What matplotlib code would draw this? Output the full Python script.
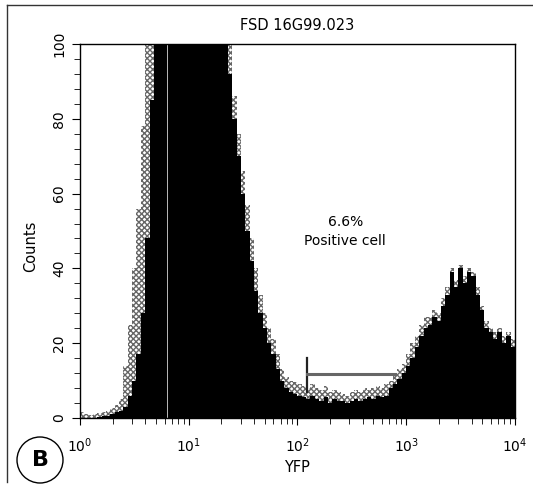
import numpy as np
import matplotlib
matplotlib.use('Agg')
import matplotlib.pyplot as plt
from matplotlib.patches import Circle
from matplotlib.lines import Line2D

# canais do citometro: 100 bins logaritmicos de 10^0 a 10^4
bin_edges = np.logspace(0, 4, 101)

# contagens (nucleo preto e halo pontilhado cinza)
black_counts = [
    0, 0, 0, 0, 0.3, 0.5, 0.6, 1.0, 1.5, 2.0,
    3, 6, 10, 17, 28, 48, 85, 140, 140, 140,
    150, 150, 150, 150, 150, 150, 150, 150, 150, 150,
    150, 150, 140, 105, 92, 80, 70, 60, 50, 42,
    34, 28, 24, 20, 17, 13, 10, 8, 7, 6.5,
    6, 5.5, 5, 6, 5, 4.5, 5.5, 4, 5, 4.5,
    4.5, 4, 4.5, 5, 4.5, 5, 5.5, 5, 6, 5.5,
    6, 8, 9, 10.5, 12, 14, 16, 19, 22, 24,
    25, 27, 26, 30, 33, 39, 35, 40, 36, 39,
    38, 33, 29, 24, 23, 21, 23, 20, 22, 19,
]
grey_counts = [
    1.5, 1.2, 0.8, 1.0, 1.3, 1.6, 2.0, 2.8, 3.5, 5.0,
    14, 25, 40, 56, 78, 110, 150, 150, 150, 150,
    150, 150, 150, 150, 150, 150, 150, 150, 150, 150,
    150, 150, 150, 125, 100, 86, 76, 66, 57, 48,
    40, 33, 28, 24, 21, 17, 13, 11, 10, 9.5,
    9, 8.5, 8, 9, 8, 7.5, 8.5, 7, 7.5, 7,
    6.5, 6, 7, 7.5, 7, 8, 7.5, 8, 8.5, 8,
    9, 10, 11.5, 13, 14.5, 17, 20, 22, 25, 27,
    27, 29, 28, 32, 35, 40, 37, 41, 38, 40,
    39, 35, 30, 26, 24, 23, 24, 22, 23, 21,
]

# marcador (gate) das celulas positivas
gate_start = 10 ** 2.09
gate_end = 10 ** 2.90
gate_level = 11.8

title = 'FSD 16G99.023'
annot = ['6.6%', 'Positive cell']

fig = plt.figure(figsize=(5.33, 4.88), dpi=100)
ax = fig.add_axes([0.150, 0.1434, 0.816, 0.7664])

ax.stairs(grey_counts, bin_edges, fill=True, facecolor='white',
          edgecolor='#666666', hatch='xxxxxx', linewidth=0)
ax.stairs(black_counts, bin_edges, fill=True, color='black')
ax.axvline(10 ** 0.8, color='#d8d8d8', lw=0.6)

# gate
ax.plot([gate_start, gate_start], [7, 16], color='#222222', lw=1.6)
ax.plot([gate_start, gate_end], [gate_level, gate_level], color='#666666', lw=2.2)

ax.text(10 ** 2.44, 52.4, annot[0], ha='center', va='center', fontsize=10)
ax.text(10 ** 2.44, 47.4, annot[1], ha='center', va='center', fontsize=10)

ax.set_xscale('log')
ax.set_xlim(1, 1e4)
ax.set_ylim(0, 100)
ax.set_yticks(range(0, 101, 20))
ax.set_yticks(range(0, 101, 4), minor=True)
ax.tick_params(axis='y', which='major', direction='out', length=6, labelrotation=90, labelsize=10, pad=4)
ax.tick_params(axis='y', which='minor', direction='out', length=4)
ax.tick_params(axis='x', which='major', direction='out', length=5, labelsize=10, pad=8)
ax.tick_params(axis='x', which='minor', direction='out', length=4)
for lbl in ax.get_yticklabels():
    lbl.set_va('center')
for s in ax.spines.values():
    s.set_linewidth(1.0)

fig.text(297 / 533, 1 - 26 / 488, title, ha='center', va='center', fontsize=10.5)
fig.text(297 / 533, 1 - 467 / 488, 'YFP', ha='center', va='center', fontsize=10.5)
fig.text(31 / 533, 1 - 246 / 488, 'Counts', ha='center', va='center', rotation=90, fontsize=10.5)

# letra do painel circulada
fig.add_artist(Circle((0.40, 0.28), 0.23, transform=fig.dpi_scale_trans,
                      fill=False, edgecolor='black', lw=1.0))
fig.text(0.40, 0.28, 'B', transform=fig.dpi_scale_trans, ha='center', va='center',
         fontsize=16, fontweight='bold')

# moldura do painel (esquerda e topo)
fig.add_artist(Line2D([7 / 533, 7 / 533], [1 - 482 / 488, 1 - 5 / 488],
                      transform=fig.transFigure, color='#333333', lw=1))
fig.add_artist(Line2D([7 / 533, 1], [1 - 5 / 488, 1 - 5 / 488],
                      transform=fig.transFigure, color='#333333', lw=1))

plt.savefig('out.png', dpi=100)
